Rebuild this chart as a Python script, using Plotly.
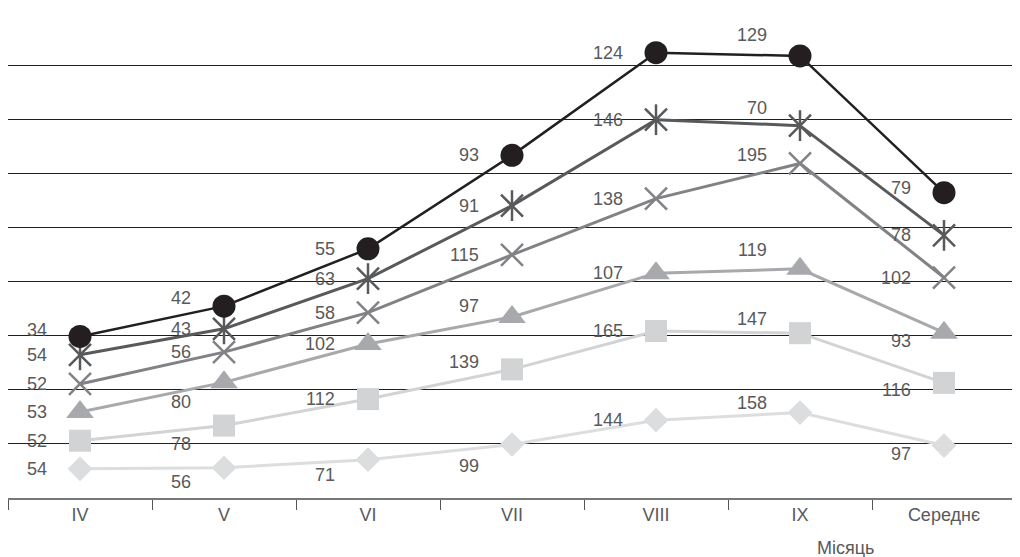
import numpy as np
import plotly.graph_objects as go

categories = ["IV", "V", "VI", "VII", "VIII", "IX", "Середнє"]

# series values (bottom to top of the stack)
diamond_vals = [54, 56, 71, 99, 144, 158, 97]
square_vals = [52, 78, 112, 139, 165, 147, 116]
triangle_vals = [53, 80, 102, 97, 107, 119, 93]
cross_vals = [52, 56, 58, 115, 138, 195, 102]
star_vals = [54, 43, 63, 91, 146, 70, 78]
circle_vals = [34, 42, 55, 93, 124, 129, 79]

y_ticks = [100, 200, 300, 400, 500, 600, 700, 800]

FONT = "Liberation Sans, Arial, sans-serif"
TXT = "#58595b"

series = [
    ("diamond", diamond_vals, "#dcddde", dict(symbol="diamond", size=19), 3),
    ("square", square_vals, "#d1d3d4", dict(symbol="square", size=22), 3),
    ("triangle", triangle_vals, "#a7a9ac", dict(symbol="triangle-up", size=24), 3),
    ("cross", cross_vals, "#808285", dict(symbol="x-thin-open", size=22, line=dict(width=2.5)), 3),
    ("star", star_vals, "#58595b", dict(symbol="x-thin-open", size=22, line=dict(width=2.5)), 3),
    ("circle", circle_vals, "#231f20", dict(symbol="circle", size=23), 2.5),
]

# label nudges in screen pixels (positive = down)
LABEL_NUDGE = {
    ("diamond", 1): 14, ("diamond", 2): 15, ("diamond", 3): 21, ("diamond", 5): -10, ("diamond", 6): 8,
    ("square", 1): 18, ("square", 3): -7, ("square", 5): -14, ("square", 6): 7,
    ("triangle", 1): 20, ("triangle", 3): -11, ("triangle", 5): -19, ("triangle", 6): 8,
    ("cross", 5): -8,
    ("star", 5): -18,
    ("circle", 0): -6, ("circle", 1): -8, ("circle", 5): -21, ("circle", 6): -5,
}

fig = go.Figure()
cum = np.zeros(len(categories))
annotations = []
for name, vals, color, marker, lw in series:
    cum = cum + np.array(vals)
    mk = dict(marker)
    mk["color"] = color
    fig.add_trace(go.Scatter(
        x=categories, y=cum.tolist(), mode="lines+markers", name=name,
        line=dict(color=color, width=lw), marker=mk, showlegend=False,
        cliponaxis=False,
    ))
    if name == "star":
        fig.add_trace(go.Scatter(
            x=categories, y=cum.tolist(), mode="markers", showlegend=False,
            marker=dict(symbol="line-ns-open", size=22, color=color, line=dict(width=2.5)),
            cliponaxis=False,
        ))
    for i, (c, yv, v) in enumerate(zip(categories, cum.tolist(), vals)):
        dy = LABEL_NUDGE.get((name, i), 0)
        annotations.append(dict(
            x=c, y=yv, xref="x", yref="y", text=str(v), showarrow=False,
            xanchor="right", yanchor="middle", xshift=-31, yshift=-dy,
            font=dict(family=FONT, size=18, color=TXT),
        ))

W, H = 1012, 549
ML, MR, MT, MB = 0, 4, 2, 59
annotations.append(dict(
    x=(837 - ML) / (W - ML - MR), y=-(540 - (H - MB)) / (H - MT - MB),
    xref="paper", yref="paper", text="Місяць", showarrow=False,
    xanchor="center", yanchor="middle",
    font=dict(family=FONT, size=18, color=TXT),
))

fig.update_layout(
    width=W, height=H,
    margin=dict(l=ML, r=MR, t=MT, b=MB),
    paper_bgcolor="white", plot_bgcolor="white",
    annotations=annotations,
    font=dict(family=FONT, size=18, color=TXT),
)
fig.update_xaxes(
    type="category", categoryorder="array", categoryarray=categories,
    range=[-0.5, 6.5], showgrid=False, zeroline=False,
    showline=True, linecolor="#77787b", linewidth=1.5,
    ticks="outside", tickson="boundaries", ticklen=10, tickcolor="#555",
    tickfont=dict(family=FONT, size=18, color=TXT),
)
fig.update_yaxes(
    range=[0, 903], tickvals=y_ticks, showticklabels=False,
    showgrid=True, gridcolor="#231f20", gridwidth=1, zeroline=False,
    showline=True, linecolor="#77787b", linewidth=1.5, ticks="",
)

fig.write_html("out.html")
